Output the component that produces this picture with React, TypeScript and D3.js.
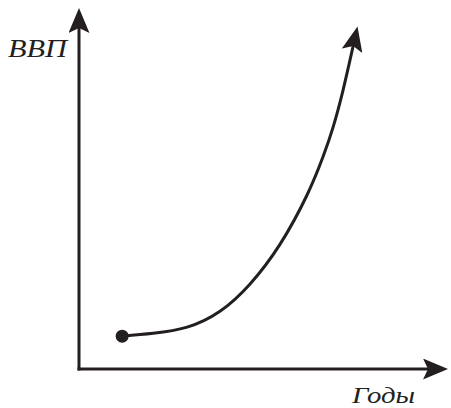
import { useEffect, useRef } from "react";
import * as d3 from "d3";

// axis domain (arbitrary units, schematic chart)
const xDomain = [0, 10];
const yDomain = [0, 10];

// curve points
const years = [1.17, 2.01, 2.93, 3.82, 4.63, 5.45, 6.18, 6.61, 6.88, 7.15, 7.43];
const gdp = [0.91, 0.99, 1.16, 1.6, 2.35, 3.46, 4.82, 5.87, 6.68, 7.7, 8.95];

const xLabel = "Годы";
const yLabel = "ВВП";

const ink = "#231f20";

export default function App() {
	const containerRef = useRef<HTMLDivElement>(null);

	useEffect(() => {
		if (!containerRef.current) {
			return;
		}

		const container = containerRef.current;
		const width = 451;
		const height = 408;

		const svg = d3
			.select(container)
			.append("svg")
			.attr("width", width)
			.attr("height", height)
			.style("display", "block");

		const xScale = d3.scaleLinear().domain(xDomain).range([79, 448]);
		const yScale = d3.scaleLinear().domain(yDomain).range([369, 8]);

		const defs = svg.append("defs");
		defs
			.append("marker")
			.attr("id", "arrow-head")
			.attr("viewBox", "0 0 25 21")
			.attr("markerWidth", 25)
			.attr("markerHeight", 21)
			.attr("markerUnits", "userSpaceOnUse")
			.attr("refX", 5)
			.attr("refY", 10.5)
			.attr("orient", "auto")
			.append("path")
			.attr("d", "M0,0 L25,10.5 L0,21 L5,10.5 Z")
			.attr("fill", ink);

		const arrowBack = 20;

		// y axis
		svg
			.append("line")
			.attr("x1", xScale(0))
			.attr("y1", yScale(0) + 1.5)
			.attr("x2", xScale(0))
			.attr("y2", yScale(yDomain[1]) + arrowBack)
			.attr("stroke", ink)
			.attr("stroke-width", 3)
			.attr("marker-end", "url(#arrow-head)");

		// x axis
		svg
			.append("line")
			.attr("x1", xScale(0) - 1.5)
			.attr("y1", yScale(0))
			.attr("x2", xScale(xDomain[1]) - arrowBack)
			.attr("y2", yScale(0))
			.attr("stroke", ink)
			.attr("stroke-width", 3)
			.attr("marker-end", "url(#arrow-head)");

		const points: [number, number][] = years.map((year, i) => [year, gdp[i]]);

		const line = d3
			.line<[number, number]>()
			.x((d) => xScale(d[0]))
			.y((d) => yScale(d[1]))
			.curve(d3.curveNatural);

		svg
			.append("path")
			.datum(points)
			.attr("d", line)
			.attr("fill", "none")
			.attr("stroke", ink)
			.attr("stroke-width", 3)
			.attr("marker-end", "url(#arrow-head)");

		svg
			.append("circle")
			.attr("cx", xScale(years[0]))
			.attr("cy", yScale(gdp[0]))
			.attr("r", 6.5)
			.attr("fill", ink);

		svg
			.append("text")
			.attr("x", 8)
			.attr("y", 57)
			.attr("font-family", "'Liberation Serif', serif")
			.attr("font-style", "italic")
			.attr("font-size", 25)
			.attr("textLength", 59)
			.attr("lengthAdjust", "spacingAndGlyphs")
			.attr("fill", ink)
			.text(yLabel);

		svg
			.append("text")
			.attr("x", 352)
			.attr("y", 403)
			.attr("font-family", "'Liberation Serif', serif")
			.attr("font-style", "italic")
			.attr("font-size", 24)
			.attr("textLength", 63)
			.attr("lengthAdjust", "spacingAndGlyphs")
			.attr("fill", ink)
			.text(xLabel);

		return () => {
			svg.remove();
		};
	}, []);

	return <div ref={containerRef} style={{ position: "absolute", left: 0, top: 0 }} />;
}
